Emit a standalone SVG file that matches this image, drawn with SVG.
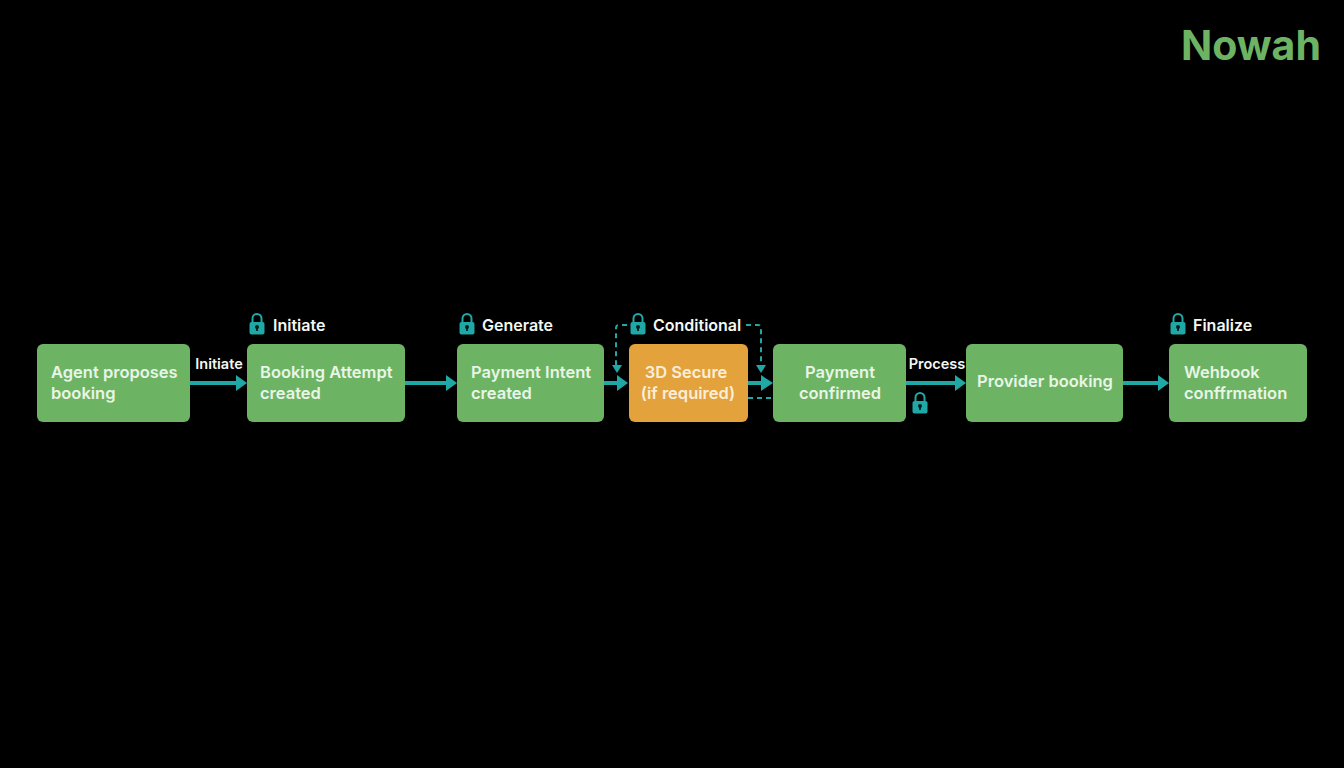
<svg xmlns="http://www.w3.org/2000/svg" width="1344" height="768" viewBox="0 0 1344 768">
<style>
text{font-family:Inter,"Liberation Sans",sans-serif;font-weight:600;fill:#f4f8f2}
.n{font-size:16.5px;fill:#e9f5e6}
.l{font-size:16px}
.s{font-size:14.5px}
.g{fill:#6cb463}
.o{fill:#e3a23c}
.c{stroke:#1fa8a6;stroke-width:4;fill:none}
.d{stroke:#1fa8a6;stroke-width:2;fill:none;stroke-dasharray:5 4}
.h{fill:#1fa8a6}
</style>
<defs>
<g id="lock">
<path d="M-4.5 -3V-6.5a4.5 4.5 0 0 1 9 0V-3" fill="none" stroke="#1fa8a6" stroke-width="2"/>
<rect x="-7.5" y="-3" width="15" height="12.5" rx="2" fill="#1fa8a6"/>
<circle cx="0" cy="2" r="2" fill="#04201f"/>
<rect x="-0.9" y="2" width="1.8" height="4" fill="#04201f"/>
</g>
</defs>
<rect width="1344" height="768" fill="#000"/>
<text x="1251" y="60" text-anchor="middle" style="font-size:41px;font-weight:700;fill:#6cb463">Nowah</text>
<g id="connectors">
<path class="c" d="M190 383H237"/><path class="h" d="M236 375L247 383L236 391Z"/>
<path class="c" d="M405 383H447"/><path class="h" d="M446 375L457 383L446 391Z"/>
<path class="c" d="M604 383H618"/><path class="h" d="M617 375L628 383L617 391Z"/>
<path class="c" d="M748 383H762"/><path class="h" d="M761 375L773 383L761 391Z"/>
<path class="c" d="M906 383H956"/><path class="h" d="M955 375L966 383L955 391Z"/>
<path class="c" d="M1123 383H1159"/><path class="h" d="M1158 375L1169 383L1158 391Z"/>
<path class="d" d="M627 325H619Q616 325 616 328V365"/><path class="h" d="M612 365H622L617 373Z"/>
<path class="d" d="M746 325H758Q761 325 761 328V365"/><path class="h" d="M756 365H766L761 373Z"/>
<path class="d" d="M748 398H771"/>
</g>
<g id="node-agent"><rect class="g" x="37" y="344" width="153" height="78" rx="6"/><text class="n" x="51" y="378">Agent proposes</text><text class="n" x="51" y="399">booking</text></g>
<g id="node-attempt"><rect class="g" x="247" y="344" width="158" height="78" rx="6"/><text class="n" x="260" y="378">Booking Attempt</text><text class="n" x="260" y="399">created</text></g>
<g id="node-intent"><rect class="g" x="457" y="344" width="147" height="78" rx="6"/><text class="n" x="471" y="378">Payment Intent</text><text class="n" x="471" y="399">created</text></g>
<g id="node-3ds"><rect class="o" x="629" y="344" width="119" height="78" rx="6"/><text class="n" x="686" y="378" text-anchor="middle" style="fill:#fbeed8">3D Secure</text><text class="n" x="688" y="399" text-anchor="middle" style="fill:#fbeed8">(if required)</text></g>
<g id="node-confirmed"><rect class="g" x="773" y="344" width="133" height="78" rx="6"/><text class="n" x="840" y="378" text-anchor="middle">Payment</text><text class="n" x="840" y="399" text-anchor="middle">confirmed</text></g>
<g id="node-provider"><rect class="g" x="966" y="344" width="157" height="78" rx="6"/><text class="n" x="1045" y="387" text-anchor="middle">Provider booking</text></g>
<g id="node-webhook"><rect class="g" x="1169" y="344" width="138" height="78" rx="6"/><text class="n" x="1184" y="378">Wehbook</text><text class="n" x="1184" y="399">conffrmation</text></g>
<g id="labels">
<use href="#lock" x="257" y="325"/><text class="l" x="273" y="331">Initiate</text>
<use href="#lock" x="467" y="325"/><text class="l" x="482" y="331">Generate</text>
<use href="#lock" x="638" y="325"/><text class="l" x="653" y="331">Conditional</text>
<use href="#lock" x="1178" y="325"/><text class="l" x="1193" y="331">Finalize</text>
<use href="#lock" x="920" y="404"/>
<text class="s" x="219" y="369" text-anchor="middle">Initiate</text>
<text class="s" x="937" y="369" text-anchor="middle">Process</text>
</g>
</svg>
